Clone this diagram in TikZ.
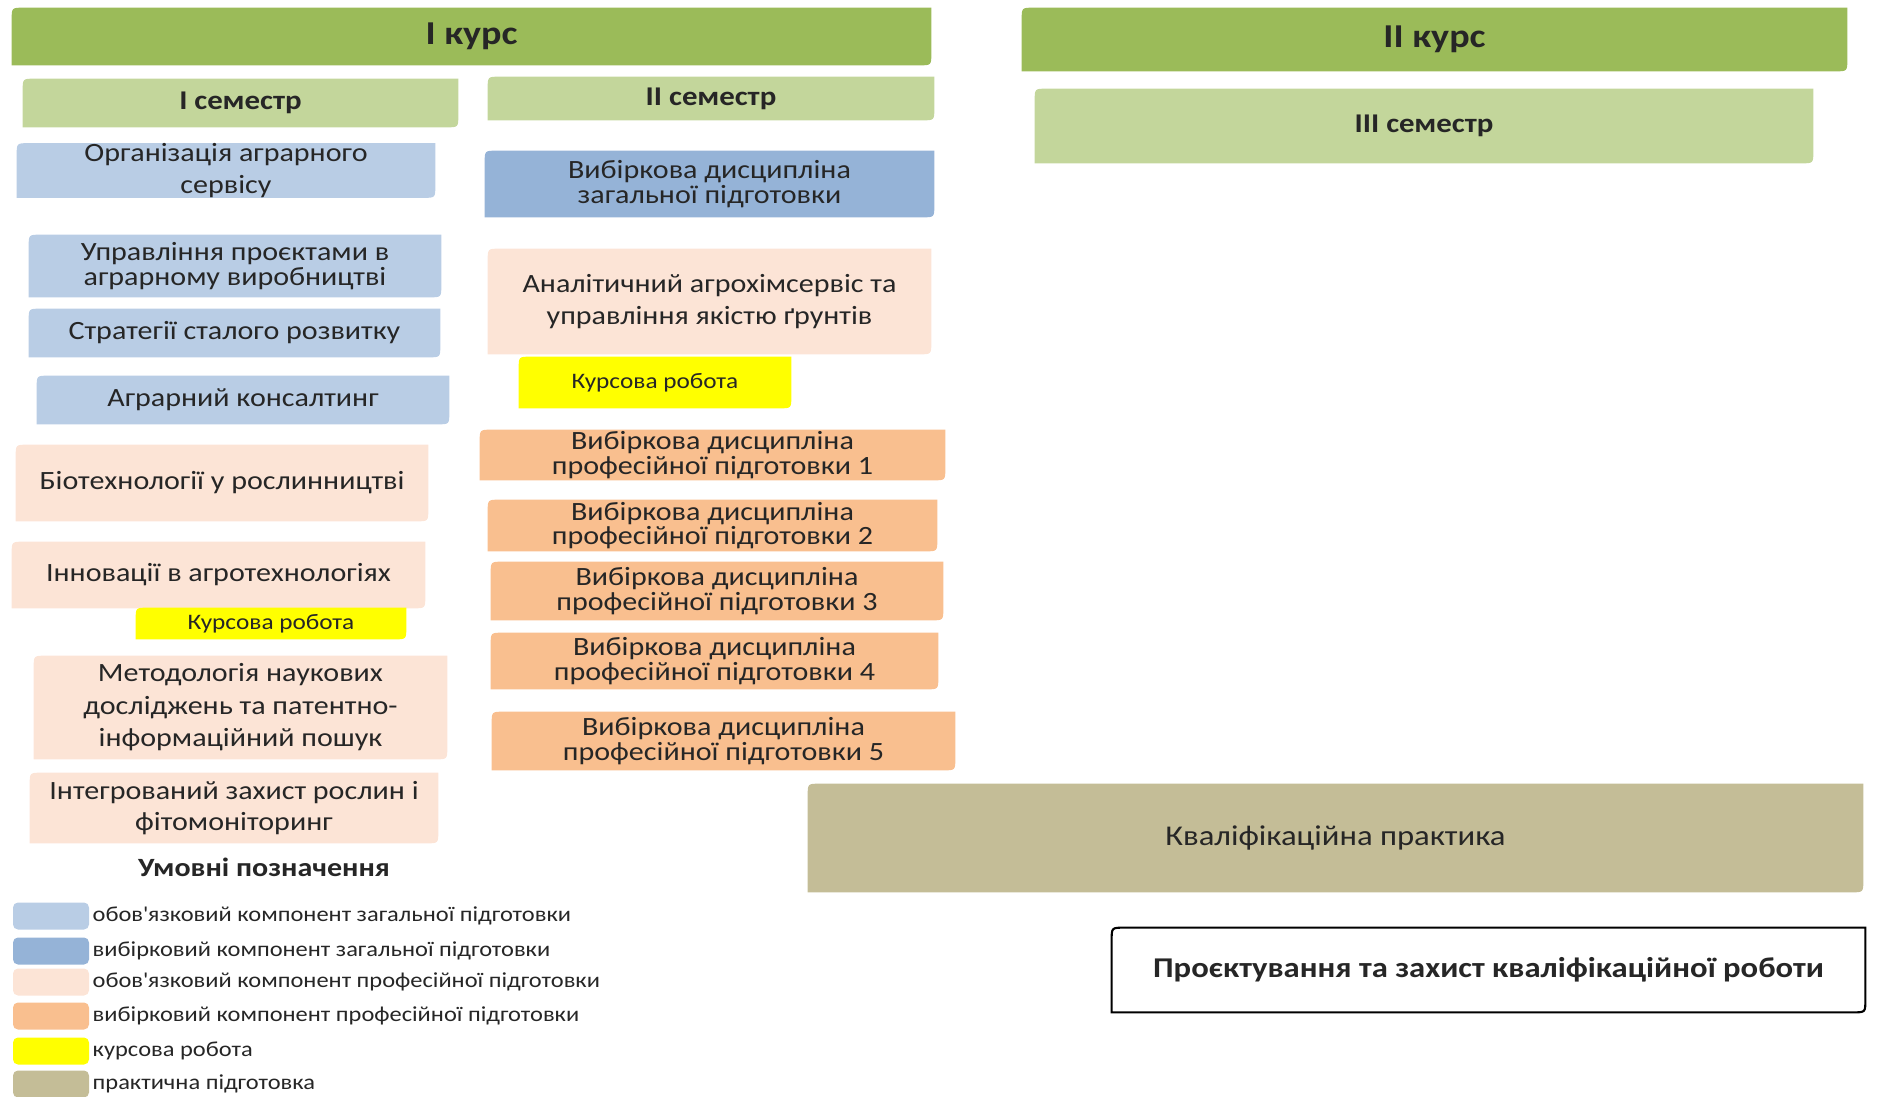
\documentclass[tikz,border=0pt]{standalone}
\usepackage{fontspec}
\setmainfont{Carlito}[FakeStretch=1.14]
\usepackage{tikz}
\usetikzlibrary{positioning,backgrounds,calc}

\definecolor{kursgreen}{HTML}{9BBB59}
\definecolor{semgreen}{HTML}{C3D69B}
\definecolor{obzag}{HTML}{B9CDE5}
\definecolor{vybzag}{HTML}{95B3D7}
\definecolor{obprof}{HTML}{FCE4D6}
\definecolor{vybprof}{HTML}{F9BF8F}
\definecolor{kursova}{HTML}{FFFF00}
\definecolor{praktyka}{HTML}{C4BD97}

\tikzset{
  blk/.style={align=center, inner sep=0pt, text=black!85, font=\fontsize{15}{18}\selectfont},
  tight/.style={blk, font=\fontsize{15}{14}\selectfont},
  ttl/.style={blk, font=\bfseries\fontsize{19}{22}\selectfont},
  sem/.style={blk, font=\bfseries\fontsize{15.4}{17}\selectfont},
  kr/.style={blk, font=\fontsize{12.6}{14}\selectfont},
  big/.style={blk, font=\fontsize{16.3}{18}\selectfont},
  sz/.style 2 args={minimum width=#1*0.2mm, minimum height=#2*0.2mm},
  swatch/.style={minimum width=76*0.2mm, minimum height=27*0.2mm, inner sep=0pt, rounded corners=1mm},
  leg/.style={anchor=west, inner sep=0pt, text=black!85, font=\fontsize{12.2}{14}\selectfont}
}

\begin{document}
\begin{tikzpicture}[x=0.2mm, y=-0.2mm]
    \useasboundingbox (0,0) rectangle (1883,1097);
    % Years and semesters
    \node[ttl, sz={919}{57}] (kurs1) at (471.5,36.5) {I курс};
    \node[ttl, sz={825}{63}] (kurs2) at (1434.5,39.5) {II курс};
    \node[sem, sz={435}{48}] (sem1) at (240.5,103) {I семестр};
    \node[sem, sz={446}{43}] (sem2) at (711,98.5) {II семестр};
    \node[sem, sz={778}{74}] (sem3) at (1424,126) {III семестр};
    % I semester
    \node[blk, sz={418}{51}] (org) at (226,170.5) {Організація аграрного\\сервісу};
    \node[tight, sz={412}{62}] (upr) at (235,266) {Управління проєктами в\\аграрному виробництві};
    \node[blk, sz={411}{48}] (strat) at (234.5,333) {Стратегії сталого розвитку};
    \node[blk, sz={412}{48}] (kons) at (243,400) {Аграрний консалтинг};
    \node[blk, sz={412}{76}] (biot) at (222,483) {Біотехнології у рослинництві};
    \node[blk, sz={413}{66}] (innov) at (218.5,575) {Інновації в агротехнологіях};
    \node[kr, sz={270}{31}] (kr1) at (271,623.5) {Курсова робота};
    \node[blk, font=\fontsize{15}{18.5}\selectfont, sz={413}{103}] (metod) at (240.5,707.5) {Методологія наукових\\досліджень та патентно-\\інформаційний пошук};
    \node[blk, sz={408}{70}] (integr) at (234,808) {Інтегрований захист рослин і\\фітомоніторинг};
    % II semester
    \node[tight, sz={449}{66}] (vzag) at (709.5,184) {Вибіркова дисципліна\\загальної підготовки};
    \node[blk, sz={443}{105}] (anal) at (709.5,301.5) {Аналітичний агрохімсервіс та\\управління якістю ґрунтів};
    \node[kr, sz={272}{51}] (kr2) at (655,382.5) {Курсова робота};
    \foreach \i/\xx/\yy/\ww/\hh in {1/712.5/455/465/50, 2/712.5/525.5/449/51, 3/717/591/452/58, 4/714.5/661/447/56, 5/723.5/741/463/58}
      \node[tight, sz={\ww}{\hh}] (vpp\i) at (\xx,\yy) {Вибіркова дисципліна\\професійної підготовки \i};
    % III semester
    \node[big, sz={1055}{108}] (prakt) at (1335.5,838) {Кваліфікаційна практика};
    \node[big, font=\bfseries\fontsize{16.3}{18}\selectfont, sz={753}{84}] (proekt) at (1488.5,970) {Проєктування та захист кваліфікаційної роботи};
    % Legend
    \node[blk, font=\bfseries\fontsize{15}{18}\selectfont] (legtitle) at (264,867) {Умовні позначення};
    \foreach \i/\c/\yy/\t in {1/obzag/916/{обов\textquotesingle язковий компонент загальної підготовки},
        2/vybzag/951/{вибірковий компонент загальної підготовки},
        3/obprof/982/{обов\textquotesingle язковий компонент професійної підготовки},
        4/vybprof/1016/{вибірковий компонент професійної підготовки},
        5/kursova/1051/{курсова робота},
        6/praktyka/1084/{практична підготовка}} {
      \node[swatch, fill=\c] (lg\i) at (51,\yy) {};
      \node[leg, right=0.6mm of lg\i] (lt\i) {\t};
    }
    % Box fills, rounded on two diagonal corners
    \begin{scope}[on background layer]
      \foreach \n/\c in {kurs1/kursgreen, kurs2/kursgreen, sem1/semgreen, sem2/semgreen, sem3/semgreen,
          org/obzag, upr/obzag, strat/obzag, kons/obzag, biot/obprof, innov/obprof, kr1/kursova,
          metod/obprof, integr/obprof, vzag/vybzag, anal/obprof, kr2/kursova, vpp1/vybprof,
          vpp2/vybprof, vpp3/vybprof, vpp4/vybprof, vpp5/vybprof, prakt/praktyka}
        \fill[\c] (\n.south west) -- ([yshift=-2.5mm]\n.north west) .. controls (\n.north west) .. ([xshift=2.5mm]\n.north west)
          -- (\n.north east) -- ([yshift=2.5mm]\n.south east) .. controls (\n.south east) .. ([xshift=-2.5mm]\n.south east) -- cycle;
      \draw[fill=white, line width=1.2pt] (proekt.south west) -- ([yshift=-2.5mm]proekt.north west) .. controls (proekt.north west) .. ([xshift=2.5mm]proekt.north west)
          -- (proekt.north east) -- ([yshift=2.5mm]proekt.south east) .. controls (proekt.south east) .. ([xshift=-2.5mm]proekt.south east) -- cycle;
    \end{scope}
\end{tikzpicture}
\end{document}
